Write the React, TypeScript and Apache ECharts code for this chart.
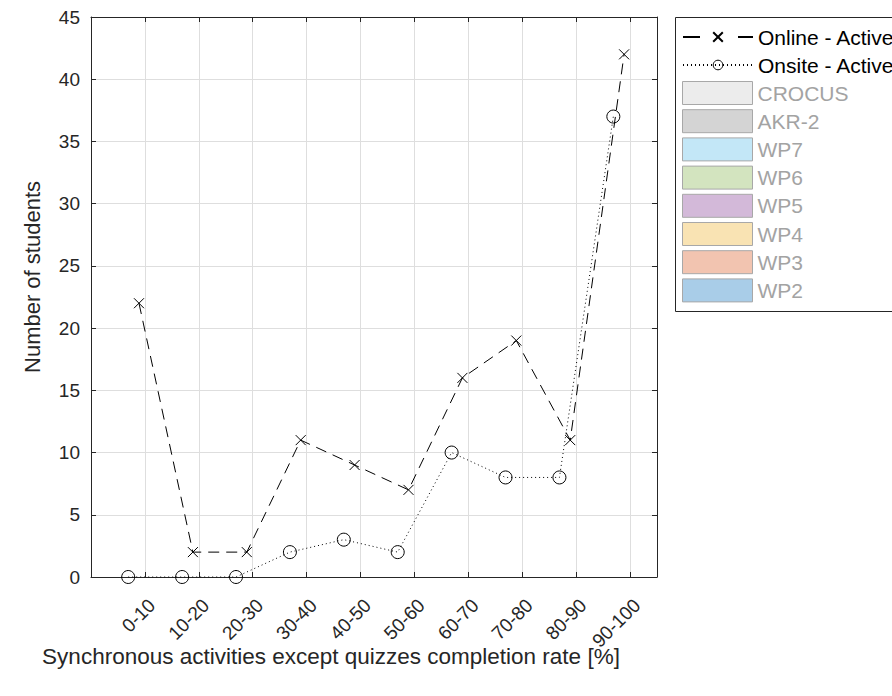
import React, { useEffect, useRef } from "react";
import * as echarts from "echarts";

// ---- data ----
const categories = ["0-10", "10-20", "20-30", "30-40", "40-50", "50-60", "60-70", "70-80", "80-90", "90-100"];
const onlineActive = [22, 2, 2, 11, 9, 7, 16, 19, 11, 42];
const onsiteActive = [0, 0, 0, 2, 3, 2, 10, 8, 8, 37];
const lineSeriesNames = ["Online - Active", "Onsite - Active"];
const barSeriesNames = ["CROCUS", "AKR-2", "WP7", "WP6", "WP5", "WP4", "WP3", "WP2"];
const barColors = ["#ececec", "#d4d4d4", "#c3e7f7", "#d3e4bf", "#d3b9d9", "#f9e3b3", "#f2c4b0", "#a9cde8"];
const yTickMin = 0;
const yTickMax = 45;
const yTickStep = 5;
const xTitle = "Synchronous activities except quizzes completion rate [%]";
const yTitle = "Number of students";

// horizontal offsets of the two line series within a category slot (styling)
const onlineOffset = -0.11;
const onsiteOffset = -0.31;

const FONT = '"Liberation Sans", Arial, Helvetica, sans-serif';
const AXIS = "#262626";
const GRID = "#dedede";

export default function App() {
  const ref = useRef<HTMLDivElement>(null);

  useEffect(() => {
    if (!ref.current) return;
    const chart = echarts.init(ref.current, undefined, { renderer: "svg" });

    const onlineData = categories.map((_, i) => [i + 1 + onlineOffset, onlineActive[i]]);
    const onsiteData = categories.map((_, i) => [i + 1 + onsiteOffset, onsiteActive[i]]);

    const xCommon = {
      type: "value" as const,
      min: 0,
      max: categories.length + 0.5,
      interval: 1,
    };
    const yCommon = {
      type: "value" as const,
      min: yTickMin,
      max: yTickMax,
      interval: yTickStep,
    };

    const option: any = {
      animation: false,
      backgroundColor: "#ffffff",
      textStyle: { fontFamily: FONT },
      grid: { left: 91, top: 17, right: 235, bottom: 119, containLabel: false },
      xAxis: [
        {
          ...xCommon,
          position: "bottom",
          axisLine: { show: true, onZero: false, lineStyle: { color: AXIS, width: 1 } },
          axisTick: { show: true, inside: true, length: 5, lineStyle: { color: AXIS } },
          splitLine: { show: true, lineStyle: { color: GRID, width: 1 } },
          axisLabel: {
            show: true,
            rotate: 45,
            margin: 18,
            fontSize: 19,
            lineHeight: 20,
            align: "right",
            verticalAlign: "top",
            color: AXIS,
            fontFamily: FONT,
            formatter: (v: number) => {
              const idx = Math.round(v) - 1;
              if (Math.abs(v - Math.round(v)) > 1e-6 || idx < 0 || idx >= categories.length) return "";
              return categories[idx];
            },
          },
        },
        {
          ...xCommon,
          position: "top",
          axisLine: { show: true, onZero: false, lineStyle: { color: AXIS, width: 1 } },
          axisTick: { show: true, inside: true, length: 5, lineStyle: { color: AXIS } },
          splitLine: { show: false },
          axisLabel: { show: false },
        },
      ],
      yAxis: [
        {
          ...yCommon,
          position: "left",
          axisLine: { show: true, onZero: false, lineStyle: { color: AXIS, width: 1 } },
          axisTick: { show: true, inside: true, length: 5, lineStyle: { color: AXIS } },
          splitLine: { show: true, lineStyle: { color: GRID, width: 1 } },
          axisLabel: { show: true, margin: 11, fontSize: 19, color: AXIS, fontFamily: FONT },
        },
        {
          ...yCommon,
          position: "right",
          axisLine: { show: true, onZero: false, lineStyle: { color: AXIS, width: 1 } },
          axisTick: { show: true, inside: true, length: 5, lineStyle: { color: AXIS } },
          splitLine: { show: false },
          axisLabel: { show: false },
        },
      ],
      legend: [
        {
          data: [
            { name: lineSeriesNames[0], lineStyle: { type: [17, 38] } },
            {
              name: lineSeriesNames[1],
              itemStyle: { color: "none", borderColor: "#000000", borderWidth: 1 },
            },
          ],
          orient: "vertical",
          left: 682,
          top: 25.5,
          padding: 0,
          itemWidth: 70,
          itemHeight: 12,
          itemGap: 5,
          selectedMode: false,
          textStyle: { fontSize: 21, lineHeight: 23, color: "#000000", fontFamily: FONT },
        },
        {
          data: barSeriesNames,
          orient: "vertical",
          left: 682,
          top: 81,
          padding: 0,
          itemWidth: 70,
          itemHeight: 23,
          itemGap: 4.2,
          icon: "rect",
          selectedMode: false,
          itemStyle: { borderColor: "#a8a8a8", borderWidth: 1 },
          textStyle: { fontSize: 21, lineHeight: 23, color: "#a3a3a3", fontFamily: FONT },
        },
      ],
      graphic: [
        {
          type: "rect",
          shape: { x: 675.5, y: 17.5, width: 300, height: 294 },
          style: { fill: "none", stroke: AXIS, lineWidth: 1 },
          z: 10,
        },
        {
          type: "text",
          x: 331,
          y: 656,
          style: {
            text: xTitle,
            font: `22.5px ${FONT}`,
            fill: AXIS,
            align: "center",
            verticalAlign: "middle",
          },
        },
        {
          type: "text",
          x: 32,
          y: 277,
          rotation: Math.PI / 2,
          style: {
            text: yTitle,
            font: `22px ${FONT}`,
            fill: AXIS,
            align: "center",
            verticalAlign: "middle",
          },
        },
      ],
      series: [
        {
          name: lineSeriesNames[0],
          type: "line",
          xAxisIndex: 0,
          yAxisIndex: 0,
          data: onlineData,
          symbol: "path://M0,0L10,10M10,0L0,10",
          symbolSize: 10,
          lineStyle: { color: "#000000", width: 1, type: [11, 7] },
          itemStyle: { color: "#000000", borderColor: "#000000", borderWidth: 1 },
          z: 5,
        },
        {
          name: lineSeriesNames[1],
          type: "line",
          xAxisIndex: 0,
          yAxisIndex: 0,
          data: onsiteData,
          symbol: "circle",
          symbolSize: 13,
          lineStyle: { color: "#000000", width: 1, type: [1, 3] },
          itemStyle: { color: "none", borderColor: "#000000", borderWidth: 1 },
          z: 5,
        },
        ...barSeriesNames.map((name, i) => ({
          name,
          type: "bar",
          xAxisIndex: 0,
          yAxisIndex: 0,
          data: [],
          itemStyle: { color: barColors[i], borderColor: "#a8a8a8", borderWidth: 1 },
        })),
      ],
    };

    chart.setOption(option);
    return () => {
      chart.dispose();
    };
  }, []);

  return (
    <div
      ref={ref}
      style={{ position: "absolute", left: 0, top: 0, width: 892, height: 696, background: "#fff" }}
    />
  );
}
